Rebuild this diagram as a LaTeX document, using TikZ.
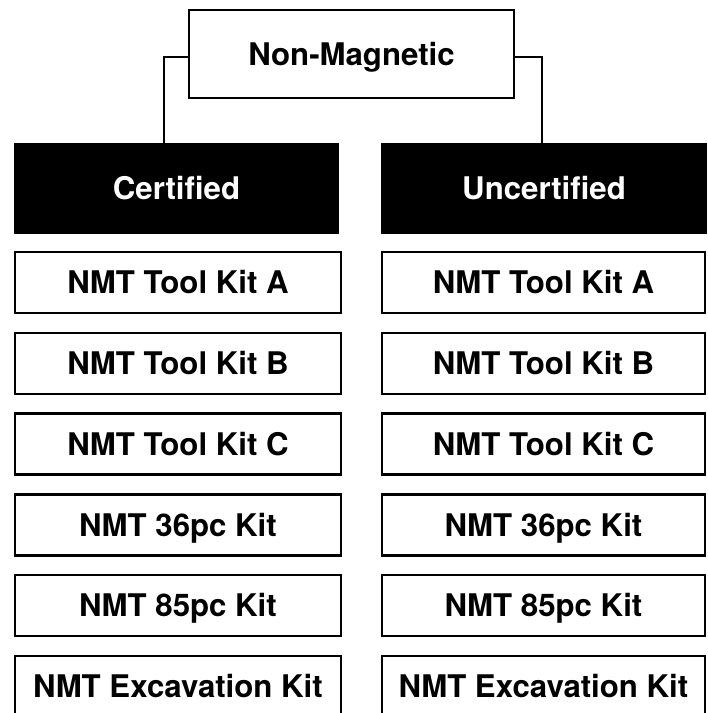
\documentclass[tikz,border=0pt]{standalone}
\usepackage{fontspec}
\setmainfont{TeX Gyre Heros}
\begin{document}
\begin{tikzpicture}[x=0.75pt,y=-0.75pt,
  lbl/.style={font=\fontsize{23.4pt}{26pt}\selectfont\bfseries, inner sep=0pt, text height=16.8pt, text depth=0pt},
  topbox/.style={lbl, draw=black, line width=1.6pt, fill=white, minimum width=243.75pt, minimum height=66pt},
  headbox/.style={lbl, fill=black, text=white, minimum width=244pt, minimum height=68pt},
  itembox/.style={lbl, draw=black, line width=1.8pt, fill=white, minimum height=45.75pt},
  conn/.style={draw=black, line width=1.5pt}]
\useasboundingbox (0,0) rectangle (707,713);
\clip (0,0) rectangle (707,713);

\node[topbox] (top) at (351.5,54) {Non-Magnetic};
\node[headbox] (cert) at (176.5,188.5) {Certified};
\node[headbox] (uncert) at (544,188.5) {Uncertified};

\coordinate (lc) at (164,57);
\coordinate (rc) at (541.5,57);
\draw[conn] (top.west |- lc) -- (lc) -- (lc |- cert.north);
\draw[conn] (top.east |- rc) -- (rc) -- (rc |- uncert.north);

\foreach \i/\t in {0/NMT Tool Kit A, 1/NMT Tool Kit B, 2/NMT Tool Kit C, 3/NMT 36pc Kit, 4/NMT 85pc Kit, 5/NMT Excavation Kit}{
  \node[itembox, minimum width=244.5pt] (l\i) at (178, 282.5+80.8*\i) {\t};
  \node[itembox, minimum width=242.25pt] (r\i) at (543.5, 282.5+80.8*\i) {\t};
}
\end{tikzpicture}
\end{document}
